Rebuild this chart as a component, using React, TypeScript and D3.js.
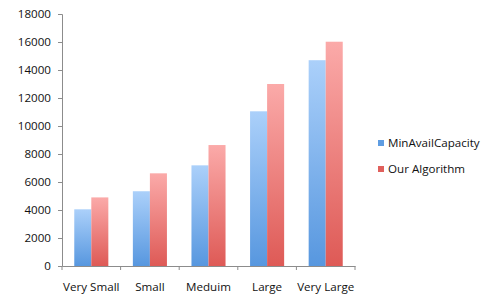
import React, { useEffect, useRef } from "react";
import * as d3 from "d3";

const categories = ["Very Small", "Small", "Meduim", "Large", "Very Large"];
const seriesNames = ["MinAvailCapacity", "Our Algorithm"];
const minAvail = [4050, 5340, 7190, 11050, 14700];
const ourAlgo = [4900, 6620, 8640, 13000, 16020];
const yTicks = [0, 2000, 4000, 6000, 8000, 10000, 12000, 14000, 16000, 18000];

export default function App() {
  const svgRef = useRef<SVGSVGElement>(null);

  useEffect(() => {
    if (!svgRef.current) return;
    const width = 487;
    const height = 300;
    const svg = d3.select(svgRef.current);
    svg.selectAll("*").remove();
    svg.attr("width", width).attr("height", height);

    const font = "'Open Sans', 'DejaVu Sans', sans-serif";
    const fontSize = "11.6px";
    const left = 62;
    const right = 355;
    const top = 14;
    const bottom = 266;

    const x = d3.scaleBand().domain(categories).range([left, right]).paddingInner(0).paddingOuter(0);
    const y = d3.scaleLinear().domain([0, 18000]).range([bottom, top]);
    const inner = d3
      .scaleBand()
      .domain(seriesNames)
      .range([0, x.bandwidth()])
      .paddingInner(0)
      .paddingOuter(0.72);

    const defs = svg.append("defs");
    const grads = [
      { id: "gBlue", top: "#abd0fa", bottom: "#5797df" },
      { id: "gRed", top: "#fbaaa9", bottom: "#de5a56" },
    ];
    grads.forEach((g) => {
      const lg = defs
        .append("linearGradient")
        .attr("id", g.id)
        .attr("x1", 0)
        .attr("y1", 0)
        .attr("x2", 0)
        .attr("y2", 1);
      lg.append("stop").attr("offset", "0%").attr("stop-color", g.top);
      lg.append("stop").attr("offset", "100%").attr("stop-color", g.bottom);
    });

    // bars
    const series = [minAvail, ourAlgo];
    series.forEach((vals, si) => {
      svg
        .append("g")
        .selectAll("rect")
        .data(vals)
        .join("rect")
        .attr("x", (_, i) => (x(categories[i]) ?? 0) + (inner(seriesNames[si]) ?? 0))
        .attr("y", (d) => y(d))
        .attr("width", inner.bandwidth())
        .attr("height", (d) => y(0) - y(d))
        .attr("fill", `url(#${grads[si].id})`);
    });

    // y axis
    const yAxis = d3.axisLeft(y).tickValues(yTicks).tickSize(4).tickPadding(7).tickFormat(d3.format("d"));
    const gy = svg.append("g").attr("transform", `translate(${left},0)`).call(yAxis);
    gy.select(".domain").attr("stroke", "#8c8c8c");
    gy.selectAll(".tick line").attr("stroke", "#8c8c8c");
    gy.selectAll(".tick text")
      .style("font-family", font)
      .style("font-size", fontSize)
      .attr("fill", "#111");

    // x axis
    const xAxis = d3.axisBottom(x).tickSize(0).tickPadding(17);
    const gx = svg.append("g").attr("transform", `translate(0,${bottom})`).call(xAxis);
    gx.select(".domain").attr("stroke", "#8c8c8c");
    gx.selectAll(".tick text")
      .style("font-family", font)
      .style("font-size", fontSize)
      .attr("fill", "#111");
    // tick marks at band boundaries
    gx.selectAll("line.sep")
      .data(categories.concat(["end"]))
      .join("line")
      .attr("class", "sep")
      .attr("x1", (d) => (d === "end" ? right : x(d) ?? 0))
      .attr("x2", (d) => (d === "end" ? right : x(d) ?? 0))
      .attr("y1", 0)
      .attr("y2", 4)
      .attr("stroke", "#8c8c8c");

    // legend
    const legend = svg.append("g").attr("transform", "translate(378,137)");
    const legendColors = ["#5e9de2", "#e0605c"];
    seriesNames.forEach((name, i) => {
      const g = legend.append("g").attr("transform", `translate(0,${i * 26})`);
      g.append("rect").attr("width", 6).attr("height", 6).attr("y", 3).attr("fill", legendColors[i]);
      g.append("text")
        .attr("x", 10)
        .attr("y", 10)
        .text(name)
        .style("font-family", font)
        .style("font-size", fontSize)
        .attr("fill", "#111");
    });
  }, []);

  return (
    <svg
      ref={svgRef}
      style={{ position: "absolute", left: 0, top: 0, background: "#fff" }}
    />
  );
}
